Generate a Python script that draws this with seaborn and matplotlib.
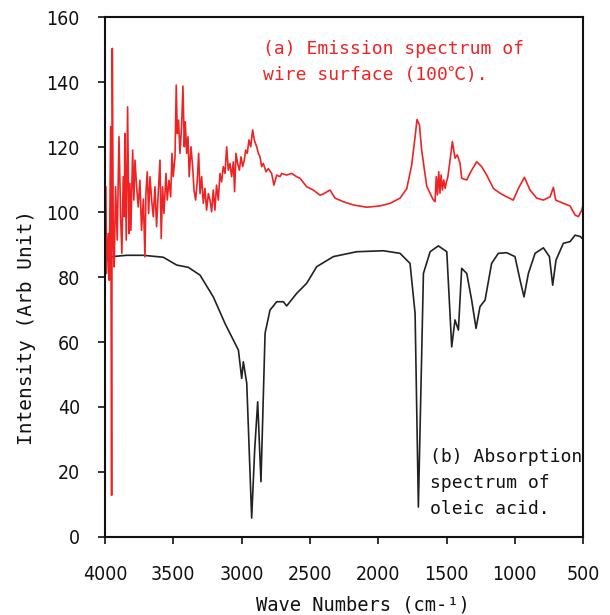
import matplotlib
matplotlib.use("Agg")
from matplotlib import pyplot as plt
import seaborn as sns
import pandas as pd

# emission spectrum (red)
red_wn = [3993, 3988, 3976, 3968, 3958, 3951, 3946, 3939, 3932, 3922, 3910, 3897, 3885, 3876,
          3866, 3858, 3854, 3844, 3834, 3824, 3817, 3810, 3797, 3788, 3780, 3768, 3756, 3744,
          3732, 3719, 3707, 3700, 3690, 3680, 3670, 3658, 3646, 3634, 3622, 3610, 3597, 3588,
          3578, 3568, 3553, 3544, 3531, 3519, 3509, 3500, 3487, 3478, 3470, 3461, 3451, 3439,
          3429, 3419, 3412, 3402, 3392, 3383, 3370, 3358, 3348, 3336, 3324, 3314, 3304, 3292,
          3280, 3268, 3256, 3243, 3231, 3219, 3207, 3195, 3183, 3170, 3158, 3146, 3134, 3121,
          3109, 3097, 3085, 3073, 3060, 3051, 3041, 3029, 3016, 3004, 2992, 2980, 2970, 2958,
          2946, 2933, 2919, 2907, 2889, 2877, 2865, 2853, 2841, 2821, 2804, 2780, 2763, 2743,
          2719, 2706, 2670, 2633, 2597, 2572, 2523, 2475, 2426, 2401, 2353, 2316, 2255, 2182,
          2084, 1987, 1913, 1840, 1791, 1755, 1730, 1716, 1698, 1682, 1657, 1645, 1620, 1600,
          1584, 1575, 1566, 1557, 1548, 1540, 1530, 1520, 1510, 1500, 1490, 1480, 1474, 1457,
          1438, 1421, 1401, 1389, 1352, 1323, 1279, 1243, 1206, 1157, 1108, 1060, 1011, 974,
          930, 889, 840, 791, 742, 718, 701, 645, 596, 559, 535, 510, 500]
red_val = [107.8, 81.1, 93.4, 79.0, 126.3, 12.8, 150.4, 93.4, 83.1, 107.8, 91.4, 123.2, 98.6, 87.3,
           110.9, 98.6, 124.2, 91.4, 132.4, 93.4, 108.8, 94.4, 119.1, 103.7, 116.0, 107.8, 101.6, 109.8,
           94.4, 104.0, 86.2, 105.7, 112.4, 99.6, 110.9, 103.7, 98.6, 107.8, 95.5, 105.7, 116.0, 91.9,
           107.8, 99.6, 111.9, 103.7, 109.8, 104.7, 118.1, 110.9, 117.0, 139.1, 124.2, 128.3, 118.1, 126.3,
           138.8, 120.1, 127.8, 118.1, 123.2, 110.9, 120.1, 114.0, 106.8, 103.7, 109.8, 118.1, 105.7, 110.9,
           102.7, 107.3, 100.6, 105.7, 103.7, 100.1, 106.8, 100.6, 108.3, 103.7, 111.9, 109.3, 114.0, 111.9,
           120.1, 112.9, 115.0, 110.9, 115.5, 106.3, 118.1, 115.0, 112.9, 117.0, 114.0, 116.0, 119.1, 118.1,
           122.2, 120.1, 125.3, 122.2, 120.1, 118.1, 117.0, 114.0, 115.0, 112.4, 113.4, 111.9, 108.3, 111.4,
           110.9, 111.9, 111.4, 111.9, 110.9, 110.4, 107.8, 106.8, 105.2, 105.6, 106.8, 104.3, 103.2, 102.2,
           101.5, 101.9, 102.7, 104.3, 107.2, 114.5, 123.2, 128.5, 126.8, 119.1, 111.5, 108.0, 105.8, 104.0,
           103.2, 110.9, 105.3, 112.4, 105.8, 111.4, 106.8, 109.9, 107.3, 109.4, 110.9, 114.0, 116.0, 121.7,
           116.6, 117.6, 115.0, 110.4, 109.9, 112.4, 115.5, 114.0, 111.4, 107.3, 105.8, 104.7, 103.7, 107.3,
           110.7, 106.8, 104.3, 103.7, 104.7, 107.6, 103.7, 102.7, 101.9, 99.1, 98.6, 100.6, 102.2]

# absorption spectrum of oleic acid (black)
blk_wn = [4000, 3841, 3719, 3573, 3475, 3390, 3304, 3207, 3121, 3060, 3023, 2999, 2987, 2962,
          2946, 2926, 2904, 2882, 2858, 2828, 2792, 2743, 2694, 2670, 2596, 2523, 2450, 2328,
          2157, 1962, 1840, 1767, 1730, 1706, 1669, 1620, 1560, 1498, 1462, 1438, 1413, 1389,
          1352, 1316, 1284, 1255, 1218, 1170, 1121, 1060, 999, 962, 933, 901, 852, 791, 747,
          723, 699, 645, 596, 559, 522, 502]
blk_val = [86.1, 86.7, 86.7, 86.1, 83.7, 83.0, 80.6, 73.9, 65.7, 60.6, 57.5, 48.8, 53.9, 47.3,
           28.9, 5.8, 26.8, 41.6, 17.0, 62.7, 69.8, 72.4, 72.4, 71.1, 75.0, 78.1, 83.2, 86.3,
           87.8, 88.1, 87.3, 84.2, 68.8, 9.2, 81.1, 87.8, 89.6, 87.8, 58.5, 66.8, 63.7, 82.7,
           81.1, 72.9, 64.2, 70.9, 72.9, 84.2, 87.3, 87.5, 86.3, 79.1, 73.9, 81.1, 87.3, 89.0, 86.3,
           77.5, 85.2, 90.4, 90.9, 92.9, 92.5, 91.7]

x_ticks = [4000, 3500, 3000, 2500, 2000, 1500, 1000, 500]
y_ticks = [0, 20, 40, 60, 80, 100, 120, 140, 160]

sns.set_style("ticks")
plt.rcParams['font.family'] = ['DejaVu Sans']
plt.rcParams['font.stretch'] = 'condensed'

fig = plt.figure(figsize=(6.1, 6.15), dpi=100)
ax = fig.add_axes([0.172, 0.127, 0.784, 0.845])

red_df = pd.DataFrame({"wn": red_wn, "val": red_val})
blk_df = pd.DataFrame({"wn": blk_wn, "val": blk_val})
sns.lineplot(data=blk_df, x="wn", y="val", ax=ax, color="#222222", lw=1.2,
             sort=False, estimator=None)
sns.lineplot(data=red_df, x="wn", y="val", ax=ax, color="#ee2424", lw=1.2,
             sort=False, estimator=None)

ax.set_xlim(4000, 500)
ax.set_ylim(0, 160)
ax.set_xticks(x_ticks)
ax.set_yticks(y_ticks)
ax.tick_params(labelsize=14, length=5, width=1.2, direction="out", colors="#111111")
ax.tick_params(axis="x", pad=15)
ax.tick_params(axis="y", pad=13)
for s in ax.spines.values():
    s.set_visible(True)
    s.set_linewidth(1.5)
    s.set_color("#111111")

mono = ['DejaVu Sans Mono', 'Noto Sans CJK JP']
ax.set_xlabel("Wave Numbers (cm-¹)", fontsize=13.5, family=mono, color="#111111")
ax.set_ylabel("Intensity (Arb Unit)", fontsize=14, family=mono, color="#111111")
ax.xaxis.set_label_coords(0.54, -0.112)
ax.yaxis.set_label_coords(-0.144, 0.403)

ax.text(2843, 153, "(a) Emission spectrum of\nwire surface (100℃).", color="#ee2424",
        fontsize=13, family=mono, va="top", ha="left", linespacing=1.55)
ax.text(1620, 27.3, "(b) Absorption\nspectrum of\noleic acid.", color="#111111",
        fontsize=13, family=mono, va="top", ha="left", linespacing=1.55)

fig.savefig("out.png", dpi=100)
